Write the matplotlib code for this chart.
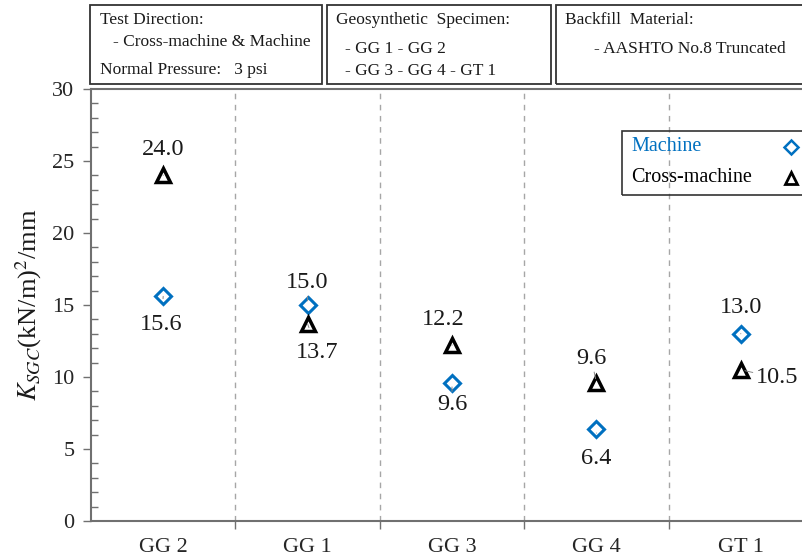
import matplotlib
matplotlib.use("Agg")
import matplotlib.pyplot as plt
from matplotlib.patches import Rectangle

plt.rcParams['font.family'] = ['Liberation Serif', 'DejaVu Serif']
plt.rcParams['mathtext.fontset'] = 'stix'

specimens = ["GG 2", "GG 1", "GG 3", "GG 4", "GT 1"]
machine = [15.6, 15.0, 9.6, 6.4, 13.0]
cross_machine = [24.0, 13.7, 12.2, 9.6, 10.5]

# label offsets in pixels (dx, dy) for each value label
machine_offsets = [(-2, -28), (0, 22), (0, -22), (0, -30), (0, 26)]
cross_offsets = [(0, 26), (10, -29), (-9, 26), (-5, 24), (36, -8)]

W, H = 802, 560
blue = '#0070C0'
spine_col = '#707070'

fig = plt.figure(figsize=(W / 100, H / 100), dpi=100)
ax = fig.add_axes([91 / W, 39 / H, 722 / W, 432 / H])

x = list(range(len(specimens)))
ax.plot(x, machine, linestyle='none', marker='D', ms=8.5, mfc='white',
        mec=blue, mew=2.2, zorder=3)
ax.plot(x, cross_machine, linestyle='none', marker='^', ms=9.5, mfc='white',
        mec='black', mew=2.5, zorder=3)

for xi, v, off in zip(x, machine, machine_offsets):
    ax.annotate(f"{v:.1f}", (xi, v), xytext=off, textcoords='offset pixels',
                ha='center', va='center', fontsize=17.5, color='#1a1a1a',
                arrowprops=dict(arrowstyle='-', color='#888888', lw=0.7,
                                shrinkA=9, shrinkB=3))
for xi, v, off in zip(x, cross_machine, cross_offsets):
    ax.annotate(f"{v:.1f}", (xi, v), xytext=off, textcoords='offset pixels',
                ha='center', va='center', fontsize=17.5, color='#1a1a1a',
                arrowprops=dict(arrowstyle='-', color='#888888', lw=0.7,
                                shrinkA=9, shrinkB=3))

# dashed separators between specimens
for b in [0.5, 1.5, 2.5, 3.5]:
    ax.axvline(b, color='#a6a6a6', ls=(0, (4, 4)), lw=1, zorder=1)

ax.set_xlim(-0.5, 4.5)
ax.set_ylim(0, 30)
ax.set_yticks(range(0, 31, 5))
ax.set_yticks(range(0, 31), minor=True)
ax.set_xticks(x)
ax.set_xticklabels(specimens)
ax.set_xticks([0.5, 1.5, 2.5, 3.5], minor=True)
ax.tick_params(axis='y', which='major', direction='out', length=6,
               width=1, color=spine_col, labelsize=16, labelcolor='#262626', pad=6)
ax.tick_params(axis='y', which='minor', direction='in', length=5,
               width=1, color=spine_col)
ax.tick_params(axis='x', which='major', length=0, labelsize=16,
               labelcolor='#262626', pad=12)
ax.tick_params(axis='x', which='minor', direction='out', length=6,
               width=1, color=spine_col)
for s in ax.spines.values():
    s.set_color(spine_col)
    s.set_linewidth(1.5)

ax.set_ylabel(r'$K_{SGC}$(kN/m)$^{2}$/mm', fontsize=19, color='#1a1a1a',
              labelpad=6)

# legend box
ax.add_patch(Rectangle((0.735, 0.755), 0.3, 0.148, transform=ax.transAxes,
                       fill=False, ec='#333333', lw=1.2, clip_on=False, zorder=4))
ax.text(0.748, 0.866, "Machine", transform=ax.transAxes, color=blue,
        fontsize=14.5, va='center', ha='left')
ax.text(0.748, 0.794, "Cross-machine", transform=ax.transAxes, color='black',
        fontsize=14.5, va='center', ha='left')
ax.plot([0.970], [0.866], transform=ax.transAxes, marker='D', ms=7,
        mfc='white', mec=blue, mew=1.8, clip_on=False)
ax.plot([0.970], [0.794], transform=ax.transAxes, marker='^', ms=8,
        mfc='white', mec='black', mew=2, clip_on=False)

# info boxes above the plot
boxes = [(90, 5, 232, 79), (327, 5, 224, 79), (556, 5, 250, 79)]
for bx, by, bw, bh in boxes:
    fig.add_artist(Rectangle((bx / W, 1 - (by + bh) / H), bw / W, bh / H,
                             transform=fig.transFigure, fill=False,
                             ec='#333333', lw=1.3))

info = [
    (100, 20, "Test Direction:"),
    (113, 42, "- Cross-machine & Machine"),
    (100, 70, "Normal Pressure:   3 psi"),
    (336, 20, "Geosynthetic  Specimen:"),
    (345, 49, "- GG 1 - GG 2"),
    (345, 71, "- GG 3 - GG 4 - GT 1"),
    (565, 20, "Backfill  Material:"),
    (594, 49, "- AASHTO No.8 Truncated"),
]
for tx, ty, s in info:
    fig.text(tx / W, 1 - ty / H, s, fontsize=12.5, color='#1a1a1a',
             ha='left', va='center')

fig.savefig("out.png", dpi=100)
